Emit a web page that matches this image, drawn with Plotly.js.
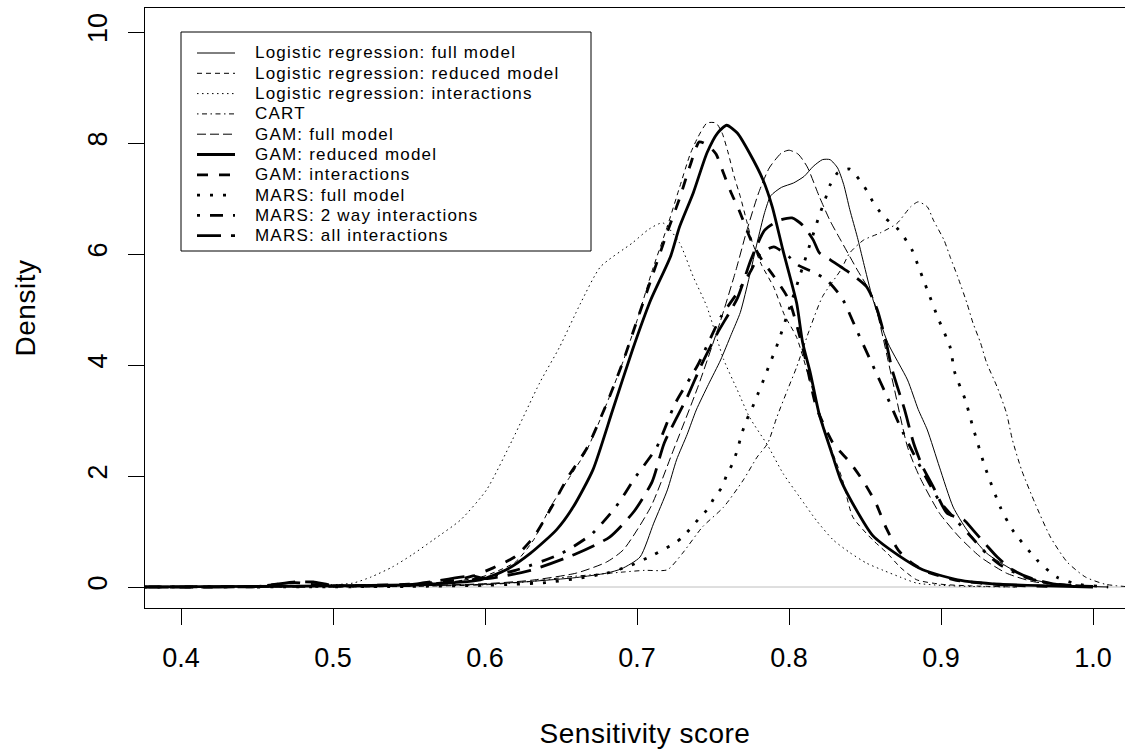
<!DOCTYPE html>
<html>
<head>
<meta charset="utf-8">
<script src="https://cdn.plot.ly/plotly-3.0.1.min.js"></script>
<style>
html, body { margin: 0; padding: 0; overflow: hidden; background: #fff; }
#chart { width: 1160px; height: 756px; }
text.annotation-text { letter-spacing: 1.2px; }
text.xtitle, text.ytitle { letter-spacing: 0.5px; }
</style>
</head>
<body>
<div id="chart"></div>
<script>
// ---- data ----
const seriesNames = [
  "Logistic regression: full model",
  "Logistic regression: reduced model",
  "Logistic regression: interactions",
  "CART",
  "GAM: full model",
  "GAM: reduced model",
  "GAM: interactions",
  "MARS: full model",
  "MARS: 2 way interactions",
  "MARS: all interactions"
];

const lrFullX = [0.45,0.50,0.55,0.60,0.63,0.66,0.68,0.69,0.702,0.711,0.72,0.726,0.733,0.739,0.747,0.755,0.762,0.768,0.774,0.779,0.784,0.788,0.795,0.803,0.81,0.816,0.822,0.827,0.832,0.836,0.840,0.845,0.849,0.855,0.865,0.878,0.885,0.891,0.899,0.908,0.917,0.930,0.947,0.961,0.975,0.99,1.01];
const lrFullY = [0,0.01,0.02,0.05,0.1,0.17,0.25,0.33,0.54,1.15,1.75,2.29,2.75,3.19,3.65,4.09,4.55,4.95,5.6,6.2,6.75,7.05,7.2,7.28,7.4,7.58,7.7,7.7,7.55,7.25,6.8,6.3,5.85,5.2,4.4,3.73,3.2,2.83,2.16,1.44,1.03,0.61,0.31,0.13,0.06,0.02,0];

const lrRedX = [0.45,0.50,0.55,0.58,0.60,0.62,0.632,0.643,0.655,0.667,0.68,0.69,0.70,0.71,0.72,0.728,0.735,0.74,0.746,0.752,0.756,0.76,0.764,0.768,0.772,0.776,0.782,0.79,0.797,0.805,0.815,0.825,0.835,0.842,0.855,0.865,0.873,0.884,0.9,0.92,0.95];
const lrRedY = [0,0.02,0.05,0.1,0.2,0.45,0.85,1.44,1.95,2.47,3.3,4.0,4.8,5.7,6.5,7.2,7.8,8.1,8.36,8.36,8.18,7.82,7.39,7.03,6.61,6.2,5.8,5.4,4.9,4.5,3.6,2.7,1.95,1.26,0.85,0.6,0.36,0.13,0.05,0.02,0];

const lrIntX = [0.40,0.45,0.49,0.513,0.525,0.539,0.552,0.566,0.584,0.601,0.618,0.636,0.649,0.663,0.676,0.697,0.708,0.717,0.728,0.737,0.746,0.757,0.766,0.774,0.786,0.796,0.807,0.818,0.829,0.84,0.851,0.862,0.873,0.884,0.9,0.92,0.95];
const lrIntY = [0,0.01,0.03,0.07,0.18,0.36,0.58,0.85,1.21,1.75,2.65,3.68,4.32,5.12,5.77,6.2,6.45,6.56,6.2,5.59,5.05,4.1,3.55,3.06,2.55,2.05,1.62,1.2,0.85,0.62,0.43,0.3,0.18,0.07,0.03,0.01,0];

const cartX = [0.50,0.55,0.60,0.63,0.654,0.67,0.691,0.705,0.72,0.73,0.743,0.757,0.77,0.779,0.786,0.792,0.799,0.805,0.813,0.822,0.834,0.840,0.849,0.860,0.871,0.880,0.885,0.891,0.895,0.902,0.906,0.911,0.917,0.921,0.926,0.930,0.937,0.943,0.947,0.953,0.962,0.972,0.983,0.995,1.008,1.025];
const cartY = [0,0.01,0.04,0.1,0.18,0.22,0.27,0.3,0.31,0.61,1.08,1.44,1.93,2.34,2.59,3.06,3.55,3.96,4.6,5.23,5.71,6.02,6.25,6.38,6.55,6.85,6.94,6.85,6.61,6.25,5.95,5.59,5.12,4.76,4.40,4.04,3.60,3.14,2.65,2.11,1.5,0.9,0.45,0.18,0.05,0];

const gamFullX = [0.45,0.55,0.60,0.63,0.66,0.68,0.691,0.709,0.724,0.74,0.755,0.765,0.772,0.78,0.787,0.795,0.80,0.806,0.812,0.820,0.827,0.834,0.845,0.855,0.868,0.878,0.886,0.899,0.912,0.926,0.943,0.96,0.98,1.0];
const gamFullY = [0,0.02,0.06,0.12,0.25,0.45,0.67,1.44,2.47,3.6,4.8,5.7,6.4,7.1,7.55,7.82,7.87,7.8,7.57,7.03,6.6,6.25,5.71,5.23,3.73,2.52,1.98,1.33,0.9,0.54,0.25,0.1,0.03,0];

const gamRedX = [0.37,0.45,0.50,0.55,0.58,0.597,0.614,0.630,0.647,0.658,0.671,0.684,0.697,0.709,0.722,0.728,0.737,0.746,0.753,0.759,0.766,0.774,0.783,0.789,0.796,0.805,0.809,0.814,0.820,0.829,0.834,0.842,0.855,0.872,0.888,0.911,0.939,0.97,1.0];
const gamRedY = [0,0.01,0.02,0.04,0.08,0.13,0.31,0.61,1.03,1.44,2.11,3.19,4.27,5.17,5.95,6.49,7.1,7.82,8.18,8.32,8.18,7.82,7.33,6.85,6.07,5.12,4.40,3.86,3.1,2.34,1.93,1.5,0.93,0.57,0.31,0.13,0.05,0.02,0];

const gamIntX = [0.37,0.45,0.475,0.485,0.50,0.55,0.58,0.592,0.605,0.62,0.632,0.643,0.655,0.667,0.68,0.69,0.70,0.71,0.72,0.728,0.735,0.741,0.747,0.752,0.757,0.762,0.767,0.775,0.782,0.79,0.80,0.81,0.818,0.829,0.840,0.849,0.857,0.864,0.872,0.88,0.89,0.91,0.94,0.97];
const gamIntY = [0,0.01,0.08,0.05,0.02,0.05,0.12,0.2,0.34,0.55,0.9,1.4,2.0,2.5,3.3,4.0,4.8,5.6,6.4,7.0,7.6,8.02,7.95,7.8,7.45,7.1,6.8,6.25,5.9,5.6,5.17,4.2,3.24,2.59,2.25,1.9,1.52,1.06,0.66,0.45,0.28,0.12,0.04,0.01];

const marsFullX = [0.45,0.55,0.60,0.62,0.64,0.66,0.68,0.695,0.711,0.717,0.725,0.730,0.736,0.741,0.747,0.751,0.756,0.759,0.763,0.766,0.769,0.772,0.776,0.780,0.784,0.787,0.791,0.794,0.80,0.81,0.82,0.824,0.827,0.832,0.840,0.846,0.851,0.855,0.859,0.864,0.871,0.876,0.881,0.884,0.891,0.898,0.906,0.909,0.916,0.921,0.929,0.939,0.947,0.963,0.976,0.99,1.01];
const marsFullY = [0,0.01,0.03,0.05,0.08,0.15,0.25,0.38,0.58,0.67,0.79,0.90,1.08,1.24,1.42,1.62,1.80,2.02,2.23,2.47,2.77,3.0,3.24,3.51,3.78,4.0,4.27,4.5,5.0,5.85,6.7,7.0,7.24,7.46,7.53,7.35,7.15,6.95,6.79,6.63,6.47,6.29,6.07,5.86,5.35,4.85,4.32,3.87,3.37,2.88,2.16,1.44,1.03,0.49,0.18,0.05,0];

const mars2X = [0.37,0.45,0.55,0.59,0.62,0.65,0.67,0.686,0.699,0.713,0.725,0.74,0.755,0.766,0.775,0.781,0.79,0.80,0.806,0.817,0.825,0.835,0.845,0.855,0.865,0.873,0.882,0.891,0.899,0.91,0.92,0.93,0.94,0.955,0.97,0.99];
const mars2Y = [0,0.01,0.03,0.12,0.3,0.6,0.95,1.44,1.98,2.52,3.3,4.0,4.86,5.3,5.7,6.0,6.13,5.95,5.8,5.66,5.53,5.2,4.6,4.0,3.4,2.9,2.4,1.93,1.55,1.2,0.9,0.6,0.38,0.18,0.07,0.02];

const marsAllX = [0.37,0.40,0.45,0.475,0.487,0.50,0.55,0.592,0.60,0.63,0.66,0.682,0.698,0.710,0.718,0.733,0.743,0.753,0.766,0.775,0.784,0.793,0.802,0.809,0.816,0.820,0.827,0.834,0.840,0.851,0.858,0.864,0.868,0.876,0.882,0.888,0.895,0.904,0.915,0.921,0.93,0.937,0.947,0.96,0.975,1.0];
const marsAllY = [0,0,0.01,0.09,0.09,0.03,0.04,0.2,0.15,0.3,0.6,0.9,1.36,1.9,2.6,3.42,4.04,4.58,5.2,5.9,6.43,6.6,6.65,6.52,6.25,6.02,5.9,5.77,5.66,5.41,5.0,4.4,3.9,3.2,2.59,2.16,1.8,1.33,1.21,1.03,0.75,0.54,0.31,0.15,0.05,0.01];

const xTickVals = [0.4,0.5,0.6,0.7,0.8,0.9,1.0];
const xTickText = ["0.4","0.5","0.6","0.7","0.8","0.9","1.0"];
const yTickVals = [0,2,4,6,8,10];
const yTickText = ["0","2","4","6","8","10"];

// ---- styles ----
const seriesX = [lrFullX, lrRedX, lrIntX, cartX, gamFullX, gamRedX, gamIntX, marsFullX, mars2X, marsAllX];
const seriesY = [lrFullY, lrRedY, lrIntY, cartY, gamFullY, gamRedY, gamIntY, marsFullY, mars2Y, marsAllY];
const styles = [
  {w:1,   d:"solid"},
  {w:1,   d:"5px,4px"},
  {w:1,   d:"1.5px,3.5px"},
  {w:1,   d:"1.5px,3.5px,5px,3.5px"},
  {w:1,   d:"9px,4px"},
  {w:2.8, d:"solid"},
  {w:2.8, d:"11px,11px"},
  {w:2.8, d:"3px,10px"},
  {w:2.8, d:"3px,10px,13px,10px"},
  {w:2.8, d:"24px,10px"}
];

const FONT = "'Liberation Sans', Arial, Helvetica, sans-serif";

const traces = seriesX.map((xs, i) => ({
  type: "scatter", mode: "lines", name: seriesNames[i],
  x: xs, y: seriesY[i],
  line: {color: "#000", width: styles[i].w, dash: styles[i].d, shape: "spline", smoothing: 0.6},
  hoverinfo: "skip", showlegend: false
}));

// plot area in px: x 145..1145, y 8..608
const L = 145, T = 8, PW = 1000, PH = 600;
const px2x = p => (p - L) / PW;
const py2y = p => (T + PH - p) / PH;

const shapes = [
  {type: "line", xref: "paper", yref: "y", x0: 0, x1: 1, y0: 0, y1: 0,
   line: {color: "#BEBEBE", width: 1}, layer: "below"},
  {type: "rect", xref: "paper", yref: "paper",
   x0: px2x(181), x1: px2x(591), y0: py2y(251), y1: py2y(32),
   line: {color: "#000", width: 1}, fillcolor: "#fff", layer: "above"}
];
const annotations = [];
seriesNames.forEach((nm, i) => {
  const cy = 53 + 20.3 * i;
  shapes.push({type: "line", xref: "paper", yref: "paper",
    x0: px2x(197), x1: px2x(235), y0: py2y(cy), y1: py2y(cy),
    line: {color: "#000", width: styles[i].w, dash: styles[i].d}, layer: "above"});
  annotations.push({xref: "paper", yref: "paper", x: px2x(253), y: py2y(cy),
    xanchor: "left", yanchor: "middle", align: "left", showarrow: false,
    text: nm, font: {family: FONT, size: 17, color: "#000"}});
});

const layout = {
  width: 1160, height: 756,
  margin: {l: L, r: 15, t: T, b: 148, autoexpand: false},
  paper_bgcolor: "#fff", plot_bgcolor: "#fff",
  showlegend: false,
  font: {family: FONT, color: "#000"},
  xaxis: {
    range: [0.4 - 36/1520, 0.4 + 964/1520],
    tickmode: "array", tickvals: xTickVals, ticktext: xTickText,
    ticks: "outside", ticklen: 16, tickwidth: 1, tickcolor: "#000",
    ticklabelstandoff: 10,
    showline: true, linecolor: "#000", linewidth: 1, mirror: true,
    showgrid: false, zeroline: false,
    tickfont: {family: FONT, size: 27, color: "#000"},
    title: {text: "Sensitivity score", font: {family: FONT, size: 28, color: "#000"}, standoff: 50}
  },
  yaxis: {
    range: [-21/55.5, 600/55.5 - 21/55.5],
    tickmode: "array", tickvals: yTickVals, ticktext: yTickText,
    ticks: "outside", ticklen: 16, tickwidth: 1, tickcolor: "#000",
    tickangle: -90, ticklabelstandoff: 10,
    showline: true, linecolor: "#000", linewidth: 1, mirror: true,
    showgrid: false, zeroline: false,
    tickfont: {family: FONT, size: 27, color: "#000"},
    title: {text: "Density", font: {family: FONT, size: 28, color: "#000"}, standoff: 39}
  },
  shapes: shapes,
  annotations: annotations
};

Plotly.newPlot("chart", traces, layout, {displayModeBar: false, staticPlot: true});
</script>
</body>
</html>
